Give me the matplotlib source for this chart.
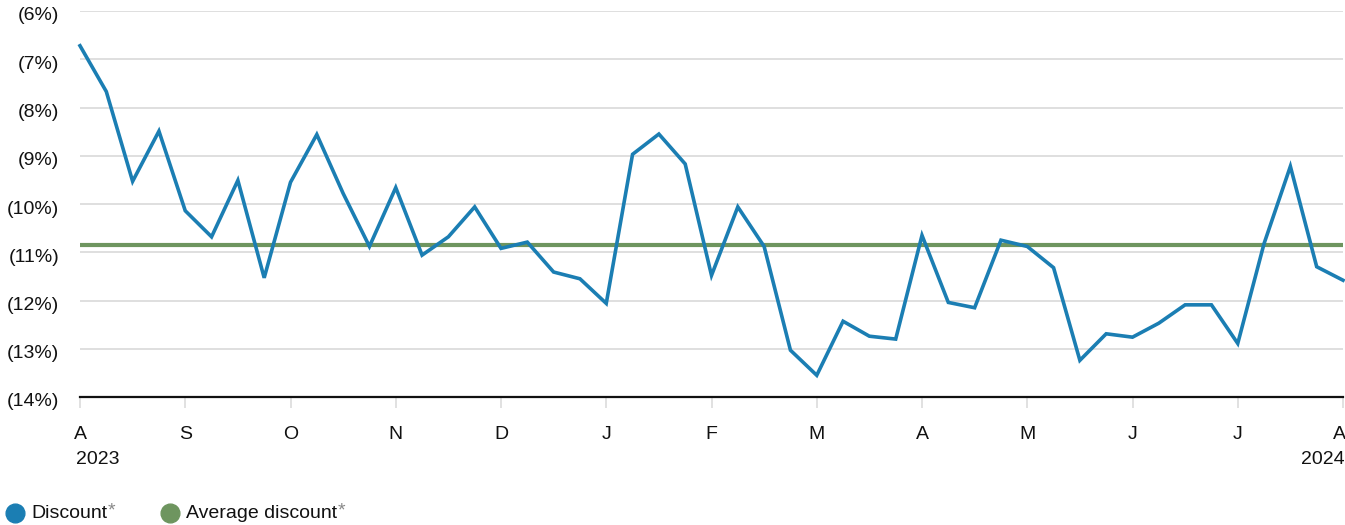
import matplotlib
matplotlib.use("Agg")
import matplotlib.pyplot as plt
from matplotlib.lines import Line2D
from matplotlib.ticker import FuncFormatter, FixedLocator
from matplotlib.transforms import ScaledTranslation

plt.rcParams['font.family'] = ['Liberation Sans', 'DejaVu Sans']

# Weekly discount values (negative = discount), Aug 2023 -> Aug 2024
discount = [-6.72, -7.67, -9.53, -8.49, -10.14, -10.68, -9.51, -11.53,
            -9.55, -8.56, -9.78, -10.88, -9.66, -11.06, -10.68, -10.06,
            -10.92, -10.79, -11.41, -11.55, -12.06, -8.97, -8.55, -9.17,
            -11.48, -10.06, -10.88, -13.03, -13.55, -12.43, -12.74, -12.80,
            -10.65, -12.04, -12.15, -10.75, -10.88, -11.32, -13.24, -12.69,
            -12.76, -12.47, -12.09, -12.09, -12.89, -10.82, -9.22, -11.30,
            -11.58]
average_discount = -10.86
month_labels = ['A', 'S', 'O', 'N', 'D', 'J', 'F', 'M', 'A', 'M', 'J', 'J', 'A']
year_labels = ['2023', '2024']
y_ticks = [-14, -13, -12, -11, -10, -9, -8, -7, -6]

BLUE = '#1b7eb3'
GREEN = '#6e955f'
GRID = '#dcdcdc'
TXT = '#111111'
FS = 14

W, H = 1345, 525
fig = plt.figure(figsize=(W / 100, H / 100), dpi=100)
ax = fig.add_axes([80 / W, 1 - 397 / H, (1343 - 80) / W, (397 - 11) / H])

x = list(range(len(discount)))
ax.plot(x, discount, color=BLUE, lw=2.6, solid_joinstyle='miter', zorder=4, clip_on=False)
ax.axhline(average_discount, color=GREEN, lw=3.0, zorder=3)

ax.set_xlim(0, len(discount) - 1)
ax.set_ylim(-14, -6)
ax.yaxis.set_major_locator(FixedLocator(y_ticks))
ax.yaxis.set_major_formatter(FuncFormatter(lambda v, p: f"({abs(v):.0f}%)"))
ax.grid(axis='y', color=GRID, lw=1.3, zorder=0)
ax.set_axisbelow(True)

month_pos = [i * 4 for i in range(len(month_labels))]
ax.set_xticks(month_pos)
ax.set_xticklabels(month_labels)

for s in ['top', 'right', 'left']:
    ax.spines[s].set_visible(False)
ax.spines['bottom'].set_color(TXT)
ax.spines['bottom'].set_linewidth(1.6)
ax.spines['bottom'].set_zorder(5)

ax.tick_params(axis='y', length=0, pad=15, labelsize=FS, labelcolor=TXT)
ax.tick_params(axis='x', length=8, width=1.2, color=GRID, pad=13,
               labelsize=FS, labelcolor=TXT)
shift = ScaledTranslation(0, -3 / 100, fig.dpi_scale_trans)
for lab in ax.get_yticklabels():
    lab.set_horizontalalignment('right')
    lab.set_transform(lab.get_transform() + shift)
xl = ax.get_xticklabels()
xl[-1].set_horizontalalignment('right')
xl[-1].set_transform(xl[-1].get_transform() + ScaledTranslation(3 / 100, 0, fig.dpi_scale_trans))

# year labels under first and last month
fig.text(76 / W, 1 - 460 / H, year_labels[0], fontsize=FS, color=TXT,
         ha='left', va='center')
fig.text(1345 / W, 1 - 460 / H, year_labels[1], fontsize=FS, color=TXT,
         ha='right', va='center')

# legend
def legend_item(cx, tx, color, label):
    fig.add_artist(Line2D([cx / W], [1 - 513 / H], marker='o', markersize=13.5,
                          color=color, transform=fig.transFigure, linestyle='none'))
    t = fig.text(tx / W, 1 - 514 / H, label, fontsize=FS, color=TXT,
                 ha='left', va='center')
    fig.canvas.draw()
    bb = t.get_window_extent()
    fig.text(bb.x1 / W + 1 / W, 1 - 511 / H, '*', fontsize=FS, color='#888888',
             ha='left', va='center')

legend_item(15, 31, BLUE, 'Discount')
legend_item(170, 186, GREEN, 'Average discount')

fig.savefig('out.png', dpi=100)
